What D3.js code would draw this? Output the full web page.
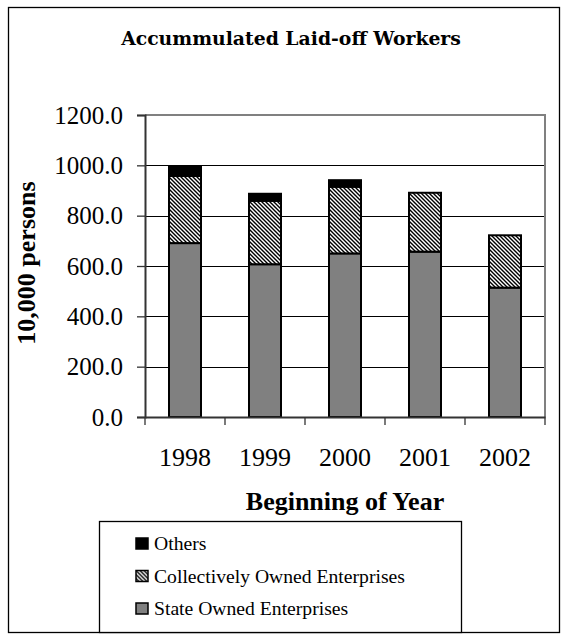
<!DOCTYPE html>
<html>
<head>
<meta charset="utf-8">
<script src="https://cdn.jsdelivr.net/npm/d3@7"></script>
<style>
  html, body { margin: 0; padding: 0; background: #fff; }
  svg { display: block; }
</style>
</head>
<body>
<svg id="chart" width="567" height="639"></svg>
<script>
// Laid-off workers at the beginning of each year, in 10,000 persons
const years = ["1998", "1999", "2000", "2001", "2002"];
const stateOwned = [691, 607, 650, 657, 514];
const collectivelyOwned = [267, 252, 265, 234, 208];
const others = [37, 28, 26, 0, 0];
const yTicks = [0, 200, 400, 600, 800, 1000, 1200];
const seriesNames = ["State Owned Enterprises", "Collectively Owned Enterprises", "Others"];

const serif = "'Liberation Serif', 'Times New Roman', serif";
const svg = d3.select("#chart");

// hatch fill for the collectively owned segment
const defs = svg.append("defs");
const hatch = defs.append("pattern")
  .attr("id", "hatch")
  .attr("patternUnits", "userSpaceOnUse")
  .attr("width", 4).attr("height", 4);
hatch.append("rect").attr("width", 4).attr("height", 4).attr("fill", "#fff");
hatch.append("path")
  .attr("d", "M-1,-1 L5,5 M-1,3 L1,5 M3,-1 L5,1")
  .attr("stroke", "#000").attr("stroke-width", 1.4);

const fills = ["#808080", "url(#hatch)", "#000"];

// outer frame
svg.append("rect")
  .attr("x", 8.5).attr("y", 7.5).attr("width", 551).attr("height", 625)
  .attr("fill", "#fff").attr("stroke", "#000").attr("stroke-width", 1.3);

// shrink or grow a text element's font until it spans the given width
function fitWidth(sel, base, target) {
  const w = sel.node().getComputedTextLength();
  return (base * target / w).toFixed(2);
}

// title
const title = svg.append("text")
  .attr("x", 291).attr("y", 45)
  .attr("text-anchor", "middle")
  .style("font-family", "'DejaVu Serif', Georgia, serif")
  .style("font-weight", "bold")
  .style("font-size", "16px")
  .text("Accummulated Laid-off Workers");
title.style("font-size", fitWidth(title, 16, 340) + "px");

// scales
const x = d3.scaleBand().domain(years).range([145, 545]).paddingInner(0.6).paddingOuter(0.3);
const y = d3.scaleLinear().domain([0, 1200]).range([417, 115]);

// gridlines
svg.append("g")
  .selectAll("line")
  .data(yTicks.filter(t => t > 0 && t < 1200))
  .join("line")
  .attr("x1", 145).attr("x2", 545)
  .attr("y1", d => Math.round(y(d)) + 0.5).attr("y2", d => Math.round(y(d)) + 0.5)
  .attr("stroke", "#000").attr("stroke-width", 1);

// plot border (top and right)
svg.append("path")
  .attr("d", `M145,${y(1200)} H545 V${y(0)}`)
  .attr("fill", "none").attr("stroke", "#808080").attr("stroke-width", 2);

// stacked bars
const rows = years.map((yr, i) => ({ year: yr, values: [stateOwned[i], collectivelyOwned[i], others[i]] }));
const stack = d3.stack().keys([0, 1, 2]).value((d, k) => d.values[k]);
const layers = stack(rows);

svg.append("g")
  .selectAll("g")
  .data(layers)
  .join("g")
  .attr("fill", (d, i) => fills[i])
  .selectAll("rect")
  .data(d => d.filter(s => s[1] - s[0] > 0))
  .join("rect")
  .attr("x", d => x(d.data.year))
  .attr("width", x.bandwidth())
  .attr("y", d => y(d[1]))
  .attr("height", d => y(d[0]) - y(d[1]))
  .attr("stroke", "#000")
  .attr("stroke-width", 2);

// y axis
const yAxis = svg.append("g")
  .attr("transform", "translate(145,0)")
  .call(d3.axisLeft(y).tickValues(yTicks).tickFormat(d3.format(".1f")).tickSize(8).tickPadding(14));
yAxis.select(".domain").attr("stroke", "#333").attr("stroke-width", 2);
yAxis.selectAll(".tick line").attr("stroke", "#333").attr("stroke-width", 1.3);
yAxis.selectAll(".tick text")
  .style("font-family", serif).style("font-size", "25px").attr("fill", "#000");

// x axis
const xAxis = svg.append("g")
  .attr("transform", `translate(0,${y(0)})`)
  .call(d3.axisBottom(x).tickSize(0).tickPadding(0));
xAxis.select(".domain").attr("stroke", "#333").attr("stroke-width", 2);
xAxis.selectAll(".tick text")
  .style("font-family", serif).style("font-size", "26px").attr("fill", "#000")
  .attr("dy", null).attr("y", 49);
// category separator ticks
const edges = years.map(d => x(d) - x.step() * x.paddingOuter()).concat([545]);
xAxis.append("g")
  .selectAll("line")
  .data(edges)
  .join("line")
  .attr("x1", d => d).attr("x2", d => d)
  .attr("y1", 0).attr("y2", 8)
  .attr("stroke", "#333").attr("stroke-width", 1.3);

// axis titles
svg.append("text")
  .attr("x", 345).attr("y", 510)
  .attr("text-anchor", "middle")
  .style("font-family", serif).style("font-weight", "bold").style("font-size", "26px")
  .text("Beginning of Year");

svg.append("text")
  .attr("transform", "translate(35,263) rotate(-90)")
  .attr("text-anchor", "middle")
  .style("font-family", serif).style("font-weight", "bold").style("font-size", "26px")
  .text("10,000 persons");

// legend
const legend = svg.append("g");
legend.append("rect")
  .attr("x", 99.5).attr("y", 521.5).attr("width", 362).attr("height", 111)
  .attr("fill", "#fff").attr("stroke", "#000").attr("stroke-width", 1.3);

const legendOrder = [2, 1, 0];
const item = legend.selectAll("g.item")
  .data(legendOrder)
  .join("g")
  .attr("class", "item")
  .attr("transform", (d, i) => `translate(136,${538 + i * 32.5})`);
item.append("rect")
  .attr("width", 12).attr("height", 11)
  .attr("fill", d => fills[d])
  .attr("stroke", "#000").attr("stroke-width", 1.5);
const labels = item.append("text")
  .attr("x", 18).attr("y", 12)
  .style("font-family", serif).style("font-size", "17px")
  .text(d => seriesNames[d]);
// size the legend labels so the longest one spans the box's text column
const longest = labels.filter(d => d === 1);
labels.style("font-size", fitWidth(longest, 17, 251) + "px");
</script>
</body>
</html>
